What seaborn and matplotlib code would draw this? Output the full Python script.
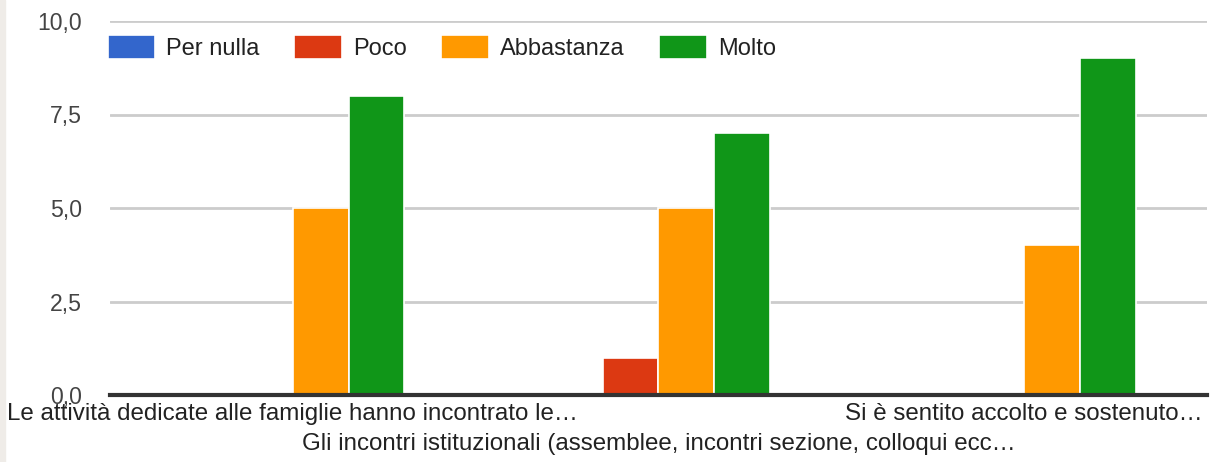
import matplotlib
matplotlib.use("Agg")
import matplotlib.pyplot as plt
from matplotlib.patches import Rectangle
from matplotlib.ticker import FixedLocator, FuncFormatter
import seaborn as sns
import pandas as pd

# data
categories = [
    "Le attività dedicate alle famiglie hanno incontrato le…",
    "Gli incontri istituzionali (assemblee, incontri sezione, colloqui ecc…",
    "Si è sentito accolto e sostenuto…",
]
levels = ["Per nulla", "Poco", "Abbastanza", "Molto"]
per_nulla = [0, 0, 0]
poco = [0, 1, 0]
abbastanza = [5, 5, 4]
molto = [8, 7, 9]
y_ticks = [0, 2.5, 5, 7.5, 10]

colors = ["#3366cc", "#dc3912", "#ff9900", "#109618"]

rows = []
for series, name in zip([per_nulla, poco, abbastanza, molto], levels):
    for cat, v in zip(categories, series):
        rows.append({"cat": cat, "livello": name, "valore": v})
df = pd.DataFrame(rows)

sns.set_theme(style="white")
plt.rcParams["font.family"] = ["Liberation Sans", "DejaVu Sans"]

fig = plt.figure(figsize=(12.11, 4.62), dpi=100)
ax = fig.add_axes([110 / 1211, 1 - 395 / 462, 1097 / 1211, (395 - 21) / 462])

sns.barplot(data=df, x="cat", y="valore", hue="livello", order=categories,
            hue_order=levels, palette=colors, width=0.61, edgecolor="white",
            linewidth=1.2, saturation=1, ax=ax, legend=True)

ax.set_ylim(0, 10)
ax.set_xlim(-0.5, 2.5)
ax.yaxis.set_major_locator(FixedLocator(y_ticks))
ax.yaxis.set_major_formatter(FuncFormatter(lambda v, p: f"{v:.1f}".replace(".", ",")))
ax.grid(axis="y", color="#cccccc", linewidth=2)
ax.set_axisbelow(True)
for s in ["left", "right", "top"]:
    ax.spines[s].set_visible(False)
ax.spines["bottom"].set_color("#333333")
ax.spines["bottom"].set_linewidth(3)
ax.spines["bottom"].set_zorder(5)
ax.set_xlabel("")
ax.set_ylabel("")

ax.set_xticks(range(len(categories)))
ax.set_xticklabels(categories, fontsize=17.4, color="#222222")
ax.tick_params(axis="x", length=0, pad=6)
ax.tick_params(axis="y", length=0, pad=20, labelsize=16.6, labelcolor="#444444")
# the middle label sits on a second line, like the google chart
ax.xaxis.get_major_ticks()[1].set_pad(27.5)

leg = ax.legend(loc="upper left", bbox_to_anchor=(-0.002, 0.963), ncol=4,
                frameon=False, fontsize=17, handlelength=2.0, handleheight=1.2,
                handletextpad=0.47, columnspacing=1.48, borderpad=0, borderaxespad=0)
for t in leg.get_texts():
    t.set_color("#222222")

# thin frame strip on the left edge like the screenshot
fig.patches.append(Rectangle((0, 0), 5 / 1211, 1, transform=fig.transFigure,
                             color="#efece8", zorder=0))

fig.savefig("out.png", dpi=100)
